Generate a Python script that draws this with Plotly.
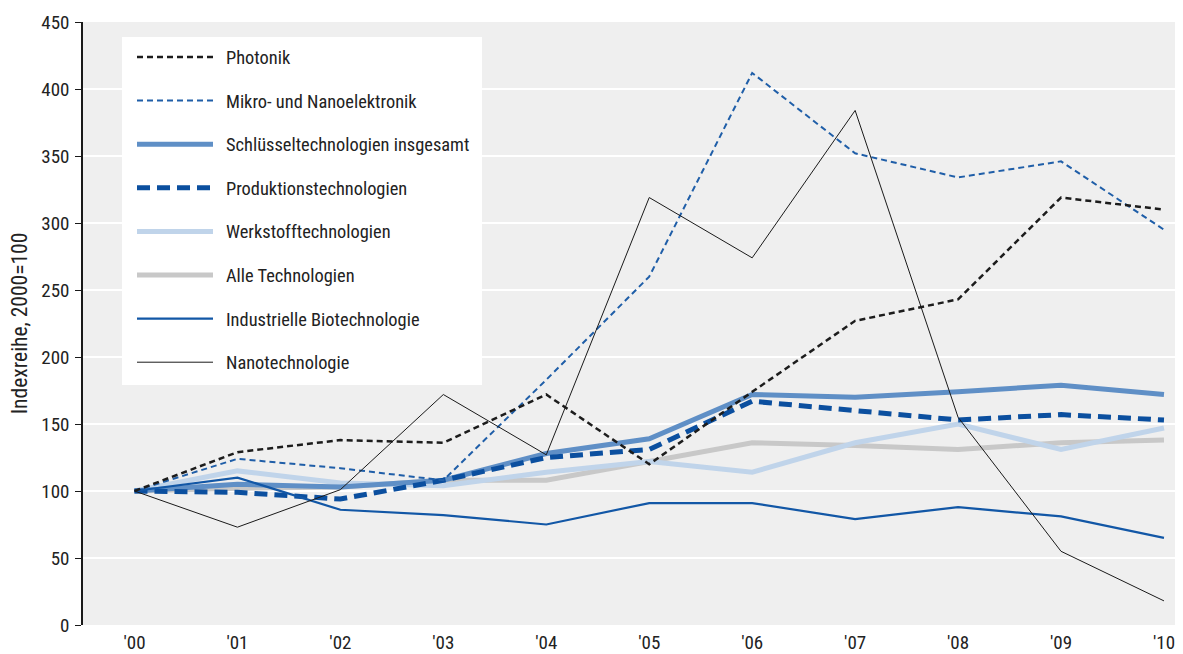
import plotly.graph_objects as go

years = ["'00", "'01", "'02", "'03", "'04", "'05", "'06", "'07", "'08", "'09", "'10"]

photonik = [100, 129, 138, 136, 172, 120, 174, 227, 243, 319, 310]
mikro = [100, 124, 117, 108, 183, 260, 412, 352, 334, 346, 295]
schluessel = [100, 105, 103, 108, 128, 139, 172, 170, 174, 179, 172]
produktion = [100, 99, 94, 108, 125, 131, 167, 160, 153, 157, 153]
werkstoff = [100, 115, 106, 104, 114, 122, 114, 136, 150, 131, 147]
alle = [100, 102, 103, 108, 108, 122, 136, 134, 131, 136, 138]
biotech = [100, 110, 86, 82, 75, 91, 91, 79, 88, 81, 65]
nano = [100, 73, 101, 172, 127, 319, 274, 384, 155, 55, 18]

names = [
    "Photonik",
    "Mikro- und Nanoelektronik",
    "Schlüsseltechnologien insgesamt",
    "Produktionstechnologien",
    "Werkstofftechnologien",
    "Alle Technologien",
    "Industrielle Biotechnologie",
    "Nanotechnologie",
]
series = [photonik, mikro, schluessel, produktion, werkstoff, alle, biotech, nano]
styles = [
    dict(color="#1c1c1c", width=2.5, dash="6px,4px"),
    dict(color="#1f5ea8", width=2, dash="6px,4px"),
    dict(color="#5f8fc6", width=5, dash="solid"),
    dict(color="#0b4f9f", width=5, dash="13px,7px"),
    dict(color="#c0d4ea", width=5, dash="solid"),
    dict(color="#c8c8c8", width=5, dash="solid"),
    dict(color="#1257a6", width=2.2, dash="solid"),
    dict(color="#1a1a1a", width=1, dash="solid"),
]
draw_order = [5, 4, 2, 3, 6, 1, 0, 7]

FONT = "Roboto Condensed, Liberation Sans Narrow, Arial Narrow, Liberation Sans, Arial, sans-serif"

fig = go.Figure()
for i in draw_order:
    fig.add_trace(go.Scatter(
        x=years, y=series[i], name=names[i], mode="lines",
        line=styles[i], showlegend=False,
    ))

# Layout geometry (pixels)
L, R, T, B = 83, 8, 22, 29
W, H = 1183, 654
pw, ph = W - L - R, H - T - B

def px_x(px):
    return (px - L) / pw

def px_y(py):
    return (H - B - py) / ph

shapes = [
    dict(type="line", xref="paper", yref="y", x0=0, x1=1, y0=100, y1=100,
         line=dict(color="#111111", width=2.2), layer="below"),
    dict(type="rect", xref="paper", yref="paper",
         x0=px_x(122), x1=px_x(482), y0=px_y(385), y1=px_y(37),
         fillcolor="white", line=dict(width=0), layer="above"),
]
annotations = []
for k, (nm, st) in enumerate(zip(names, styles)):
    yy = 57 + k * 43.6
    shapes.append(dict(type="line", xref="paper", yref="paper",
                       x0=px_x(137), x1=px_x(213), y0=px_y(yy), y1=px_y(yy),
                       line=st, layer="above"))
    annotations.append(dict(xref="paper", yref="paper", x=px_x(224), y=px_y(yy + 0.5),
                            text=nm, showarrow=False, xanchor="left", yanchor="middle",
                            font=dict(family=FONT, size=18.4, color="#222222")))

fig.update_layout(
    width=W, height=H,
    margin=dict(l=L, r=R, t=T, b=B, pad=0, autoexpand=False),
    paper_bgcolor="white",
    plot_bgcolor="#efefef",
    font=dict(family=FONT, size=19, color="#222222"),
    shapes=shapes,
    annotations=annotations,
    showlegend=False,
    xaxis=dict(
        type="category", range=[-0.5, 10.107], automargin=False,
        showgrid=False, zeroline=False, showline=False,
        ticks="", tickfont=dict(size=19, color="#222222"),
        ticklabelstandoff=4,
    ),
    yaxis=dict(
        range=[0, 450], dtick=50, tick0=0, automargin=False,
        showgrid=True, gridcolor="white", gridwidth=2,
        zeroline=False, showline=True, linecolor="#1a1a1a", linewidth=1.5,
        ticks="outside", ticklen=6, tickcolor="#1a1a1a", tickwidth=1,
        tickfont=dict(size=19, color="#222222"),
        ticklabelstandoff=2,
        title=dict(text="Indexreihe, 2000=100", font=dict(size=21.5, color="#222222"), standoff=8),
    ),
)

fig.write_html("out.html", config={"displayModeBar": False},
               post_script="document.body.style.margin='0';")
